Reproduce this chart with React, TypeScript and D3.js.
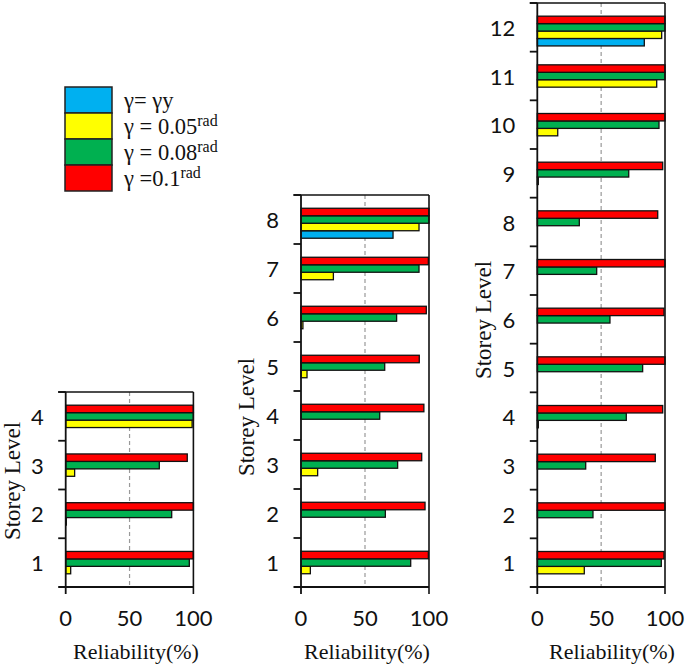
import React from "react";
import * as d3 from "d3";

// ---- Data ----
const seriesKeys = ["gy", "g005", "g008", "g01"];
const seriesColors = ["#00B0F0", "#FFFF00", "#00B050", "#FF0000"];
const legendLabels = ["γ= γy", "γ = 0.05", "γ = 0.08", "γ =0.1"];
const legendSup = ["", "rad", "rad", "rad"];
const xTicks = [0, 50, 100];

// 4-storey building
const storeys4 = [1, 2, 3, 4];
const s4_gy = [0, 0, 0, 0];
const s4_g005 = [3.9, 0.5, 7, 99];
const s4_g008 = [96.8, 83, 73.3, 100];
const s4_g01 = [100, 100, 95.2, 100];

// 8-storey building
const storeys8 = [1, 2, 3, 4, 5, 6, 7, 8];
const s8_gy = [0, 0, 0, 0, 0, 0, 0, 71.9];
const s8_g005 = [7.3, 0, 13, 0, 4.7, 1.5, 25.3, 92.2];
const s8_g008 = [85.7, 65.9, 75.5, 61.5, 65.4, 74.7, 92.2, 100];
const s8_g01 = [99.5, 96.9, 94.3, 96, 92.4, 97.9, 99.5, 100];

// 12-storey building
const storeys12 = [1, 2, 3, 4, 5, 6, 7, 8, 9, 10, 11, 12];
const s12_gy = [0, 0, 0, 0, 0, 0, 0, 0, 0, 0, 0, 83.8];
const s12_g005 = [36.8, 0, 0, 0.8, 0, 0, 0, 0, 0.8, 16, 93.5, 97.4];
const s12_g008 = [97.1, 43.6, 37.9, 69.7, 82.5, 56.9, 46.5, 32.9, 71.6, 95.3, 100, 100];
const s12_g01 = [99.2, 100, 92.4, 98.2, 100, 99.2, 100, 94.3, 98.2, 100, 100, 100];

const panels = [
  { storeys: storeys4, values: [s4_gy, s4_g005, s4_g008, s4_g01], x0: 65.7, x1: 193.4, top: 392, bottom: 587, ylab: [12, 481], xlabCx: 136 },
  { storeys: storeys8, values: [s8_gy, s8_g005, s8_g008, s8_g01], x0: 301, x1: 429, top: 195, bottom: 587, ylab: [246, 417], xlabCx: 367 },
  { storeys: storeys12, values: [s12_gy, s12_g005, s12_g008, s12_g01], x0: 537.3, x1: 665, top: 3, bottom: 587, ylab: [483, 320], xlabCx: 612 },
];

const SANS = "Lato, 'Open Sans', sans-serif";
const SERIF = "'Liberation Serif', 'Times New Roman', serif";

// slot order top to bottom: empty, red, green, yellow, blue
const slotOrder = ["_", "g01", "g008", "g005", "gy"];

function Panel({ p }: { p: (typeof panels)[number] }) {
  const x = d3.scaleLinear().domain([0, 100]).range([p.x0, p.x1]);
  const y = d3
    .scaleBand<number>()
    .domain([...p.storeys].reverse())
    .range([p.top, p.bottom])
    .paddingInner(0)
    .paddingOuter(0);
  const inner = d3
    .scaleBand<string>()
    .domain(slotOrder)
    .range([0, y.bandwidth()])
    .paddingInner(0)
    .paddingOuter(0.77);
  const boundaries = p.storeys.map((s) => (y(s) as number)).concat([p.bottom]);
  return (
    <g>
      {/* gridline at 50 */}
      <line x1={x(50)} x2={x(50)} y1={p.top} y2={p.bottom} stroke="#999" strokeWidth={1.2} strokeDasharray="4,3" />
      {/* bars */}
      {p.storeys.map((s, i) =>
        seriesKeys.map((k, si) => {
          const v = p.values[si][i];
          if (v <= 0) return null;
          return (
            <rect
              key={`${s}-${k}`}
              x={x(0)}
              y={(y(s) as number) + (inner(k) as number)}
              width={x(v) - x(0)}
              height={inner.bandwidth()}
              fill={seriesColors[si]}
              stroke="#111"
              strokeWidth={1.3}
            />
          );
        })
      )}
      {/* frame */}
      <line x1={p.x0 - 7.5} x2={p.x1} y1={p.top} y2={p.top} stroke="#111" strokeWidth={1.6} />
      <line x1={p.x1} x2={p.x1} y1={p.top} y2={p.bottom + 7} stroke="#111" strokeWidth={1.6} />
      <line x1={p.x0} x2={p.x0} y1={p.top} y2={p.bottom + 7} stroke="#111" strokeWidth={1.8} />
      {boundaries.map((b, i) => (
        <line key={i} x1={p.x0 - 7.5} x2={i === boundaries.length - 1 ? p.x1 : p.x0} y1={b} y2={b} stroke="#111" strokeWidth={1.8} />
      ))}
      {/* y tick labels */}
      {p.storeys.map((s) => (
        <text
          key={s}
          x={p.x0 - 22}
          y={(y(s) as number) + y.bandwidth() / 2}
          textAnchor="end"
          dominantBaseline="central"
          fontFamily={SANS}
          fontSize={22}
          fill="#111"
        >
          {s}
        </text>
      ))}
      {/* x tick labels */}
      {xTicks.map((t) => (
        <text key={t} x={x(t)} y={617} textAnchor="middle" dominantBaseline="central" fontFamily={SANS} fontSize={22} fill="#111">
          {t}
        </text>
      ))}
      <text x={p.xlabCx} y={659} textAnchor="middle" fontFamily={SERIF} fontSize={22} fill="#111">
        Reliability(%)
      </text>
      <text
        transform={`translate(${p.ylab[0]},${p.ylab[1]}) rotate(-90)`}
        textAnchor="middle"
        dominantBaseline="central"
        fontFamily={SERIF}
        fontSize={23}
        fill="#111"
      >
        Storey Level
      </text>
    </g>
  );
}

function Legend() {
  const ly = d3.scaleBand<number>().domain([0, 1, 2, 3]).range([87, 191]);
  return (
    <g>
      {legendLabels.map((lab, i) => (
        <g key={i}>
          <rect x={65} y={ly(i) as number} width={47} height={ly.bandwidth()} fill={seriesColors[i]} stroke="#222" strokeWidth={1.5} />
          <text x={124} y={(ly(i) as number) + ly.bandwidth() / 2 + 8} fontFamily={SERIF} fontSize={22.5} fill="#111">
            {lab}
            {legendSup[i] && (
              <tspan dy={-8} fontSize={16}>
                {legendSup[i]}
              </tspan>
            )}
          </text>
        </g>
      ))}
    </g>
  );
}

export default function App() {
  return (
    <svg width={685} height={665} style={{ position: "absolute", left: 0, top: 0, background: "#fff" }}>
      <rect width={685} height={665} fill="#fff" />
      {panels.map((p, i) => (
        <Panel key={i} p={p} />
      ))}
      <Legend />
    </svg>
  );
}
